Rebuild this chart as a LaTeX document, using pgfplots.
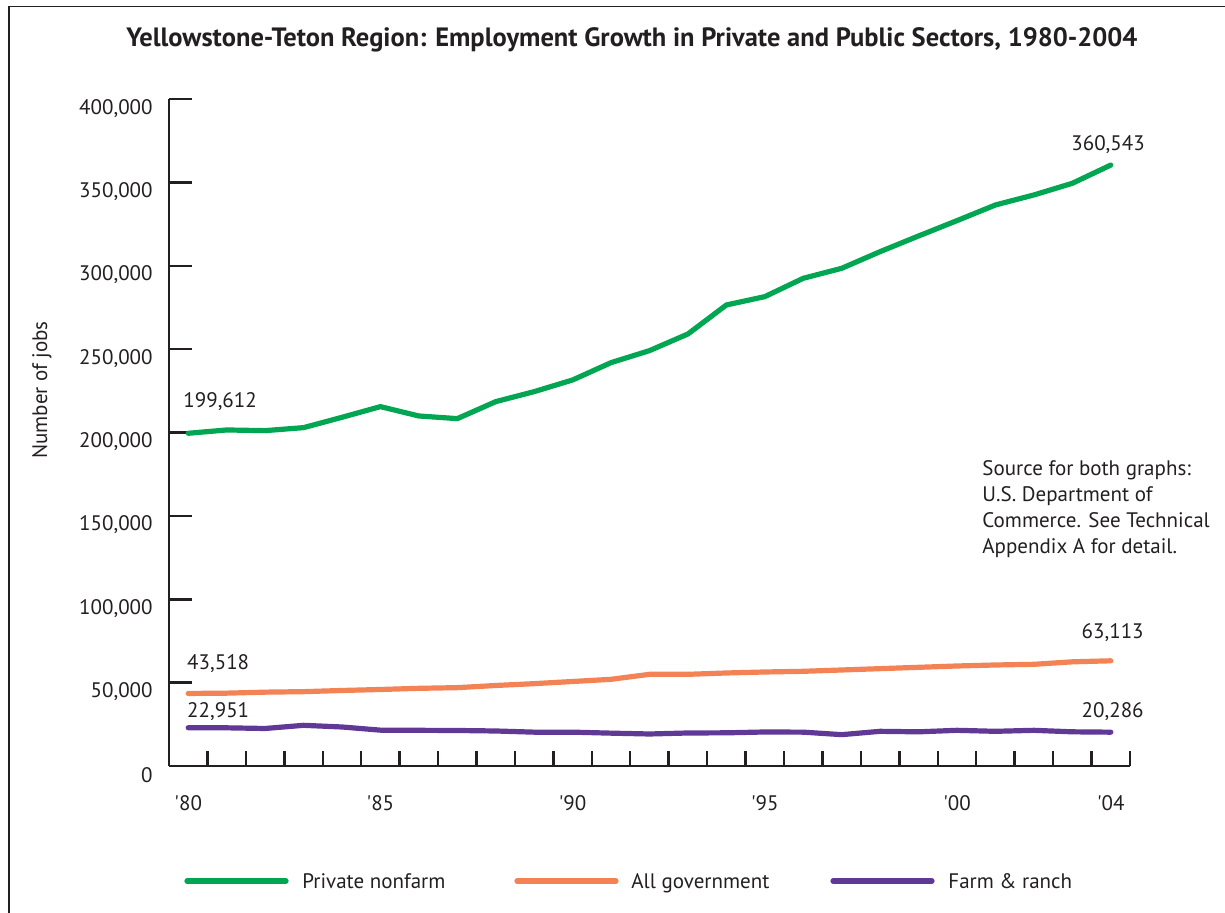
\documentclass[border=0pt]{standalone}
\usepackage{pgfplots}
\pgfplotsset{compat=1.18}
\usepackage{fontspec}
\setmainfont{PT Sans}
\definecolor{cgreen}{RGB}{0,166,81}
\definecolor{corange}{RGB}{243,130,84}
\definecolor{cpurple}{RGB}{96,56,150}
\definecolor{ctext}{RGB}{35,31,32}
\begin{document}
\begin{tikzpicture}
\useasboundingbox (0,0) rectangle (612.5pt,456.5pt);
\draw[ctext,line width=0.8pt] (4.5pt,0pt) -- (4.5pt,453.2pt) -- (612.5pt,453.2pt);
\node[font=\bfseries\fontsize{13.25}{15}\selectfont,text=ctext] at (316pt,436.5pt)
  {Yellowstone-Teton Region: Employment Growth in Private and Public Sectors, 1980-2004};
\node[rotate=90,font=\fontsize{10.5}{12}\selectfont,text=ctext] at (21pt,261.5pt) {Number of jobs};
\begin{axis}[
  at={(84.5pt,73.5pt)}, anchor=south west,
  scale only axis, width=480.5pt, height=333.35pt,
  xmin=1979.5, xmax=2004.5, ymin=0, ymax=400000,
  axis x line=bottom, axis y line=left,
  axis line style={ctext,line width=1.2pt,-},
  tick align=inside,
  tick style={ctext,line width=1.2pt},
  xtick style={/pgfplots/major tick length=7.5pt},
  ytick style={/pgfplots/major tick length=11.5pt},
  xtick={1980.5,1981.5,...,2004.5},
  xticklabels={},
  extra x ticks={1980,1985,1990,1995,2000,2004},
  extra x tick labels={\textquotesingle80,\textquotesingle85,\textquotesingle90,\textquotesingle95,\textquotesingle00,\textquotesingle04},
  extra x tick style={/pgfplots/major tick length=0pt, tick style={draw=none}},
  xticklabel style={anchor=center, yshift=-18.5pt, inner sep=0pt, font=\fontsize{10.5}{12}\selectfont, text=ctext},
  ytick={0,50000,...,400000},
  scaled y ticks=false,
  yticklabel style={anchor=east, inner sep=0pt, xshift=-8pt, yshift=-4.5pt, font=\fontsize{10.5}{12}\selectfont, text=ctext,
    /pgf/number format/.cd, fixed, 1000 sep={,}, assume math mode=true},
  clip=false,
  every axis plot/.append style={line width=2.6pt, line cap=round, line join=round},
]
\addplot[cgreen] coordinates {
(1980,199612) (1981,201600) (1982,201200) (1983,203000) (1984,209200)
(1985,215600) (1986,210000) (1987,208400) (1988,218600) (1989,224600)
(1990,231600) (1991,242000) (1992,249200) (1993,259200) (1994,276600)
(1995,281600) (1996,292600) (1997,298600) (1998,308600) (1999,318000)
(2000,327200) (2001,336600) (2002,342600) (2003,349600) (2004,360543)};
\addplot[corange] coordinates {
(1980,43518) (1981,43700) (1982,44300) (1983,44600) (1984,45300)
(1985,45900) (1986,46600) (1987,47000) (1988,48300) (1989,49400)
(1990,50700) (1991,52000) (1992,55000) (1993,55000) (1994,55800)
(1995,56400) (1996,56800) (1997,57600) (1998,58400) (1999,59200)
(2000,60000) (2001,60600) (2002,61000) (2003,62500) (2004,63113)};
\addplot[cpurple] coordinates {
(1980,22951) (1981,22900) (1982,22500) (1983,24400) (1984,23400)
(1985,21500) (1986,21400) (1987,21300) (1988,21000) (1989,20300)
(1990,20300) (1991,19700) (1992,19200) (1993,19800) (1994,19900)
(1995,20400) (1996,20300) (1997,18800) (1998,20800) (1999,20500)
(2000,21400) (2001,20800) (2002,21400) (2003,20500) (2004,20286)};
\begin{scope}[every node/.style={font=\fontsize{10.5}{12}\selectfont, text=ctext}]
\node at (axis cs:1980.83,218400) {199,612};
\node at (axis cs:1980.78,61200) {43,518};
\node at (axis cs:1980.78,32400) {22,951};
\node at (axis cs:2003.93,372600) {360,543};
\node at (axis cs:2004.05,79800) {63,113};
\node at (axis cs:2004.05,32400) {20,286};
\end{scope}
\end{axis}
\begin{scope}[every node/.style={font=\fontsize{10.5}{12}\selectfont, text=ctext, anchor=base west, inner sep=0pt}]
\node at (491pt,218.5pt) {Source for both graphs:};
\node at (491pt,205.5pt) {U.S. Department of};
\node at (491pt,192.5pt) {Commerce. See Technical};
\node at (491pt,179.5pt) {Appendix A for detail.};
\end{scope}
\begin{scope}[line width=2.6pt, line cap=round]
\draw[cgreen] (93.5pt,16pt) -- (143pt,16pt);
\draw[corange] (258.5pt,16pt) -- (308pt,16pt);
\draw[cpurple] (416.5pt,16pt) -- (466pt,16pt);
\end{scope}
\begin{scope}[every node/.style={font=\fontsize{10.5}{12}\selectfont, text=ctext, anchor=base west, inner sep=0pt}]
\node at (151pt,12pt) {Private nonfarm};
\node at (315.5pt,12pt) {All government};
\node at (474pt,12pt) {Farm \& ranch};
\end{scope}
\end{tikzpicture}
\end{document}
